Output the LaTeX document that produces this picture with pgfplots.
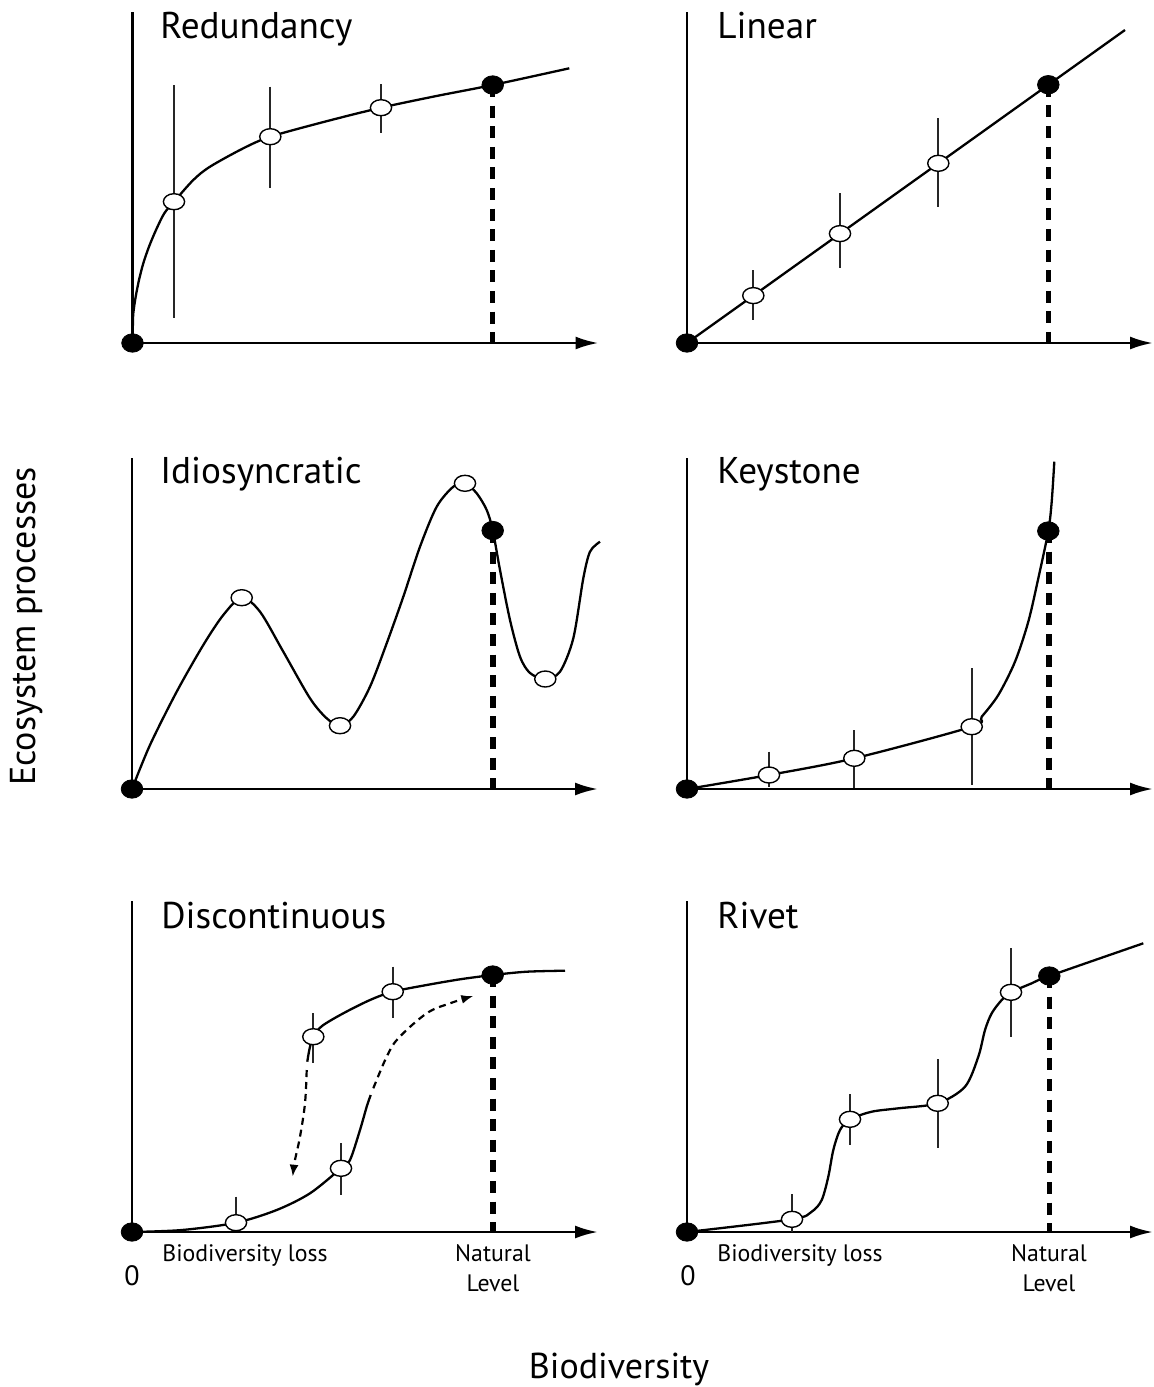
\documentclass[border=0pt]{standalone}
\usepackage{pgfplots}
\pgfplotsset{compat=1.18}
\usetikzlibrary{arrows.meta}
\usepackage{fontspec}
\setmainfont{PT Sans}

\pgfdeclareplotmark{ovo}{\pgfpathellipse{\pgfpointorigin}{\pgfqpoint{5.3pt}{0pt}}{\pgfqpoint{0pt}{4pt}}\pgfusepathqfillstroke}
\pgfdeclareplotmark{ovf}{\pgfpathellipse{\pgfpointorigin}{\pgfqpoint{5.4pt}{0pt}}{\pgfqpoint{0pt}{4.6pt}}\pgfusepathqfillstroke}

\pgfplotsset{
  panel/.style={x=0.5pt,y=0.5pt,xmin=0,xmax=466,ymin=0,ymax=331,
    axis x line=bottom, axis y line=left, ticks=none,
    axis line style={line width=1.35pt, black},
    x axis line style={-{Latex[length=11.5pt,width=6.5pt]}},
    y axis line style={-},
    clip=false, anchor=origin},
  curve/.style={black, line width=1.15pt, no markers, smooth, tension=0.5},
  ebar/.style={black!85, line width=0.85pt, no markers},
  nat/.style={black, line width=2.6pt, dash pattern=on 6pt off 4.3pt, no markers},
  openm/.style={only marks, mark=ovo, mark options={fill=white, draw=black, line width=0.7pt}},
  fullm/.style={only marks, mark=ovf, mark options={fill=black, draw=black, line width=0.4pt}},
  dotarrow/.style={black, line width=1.1pt, dash pattern=on 3.5pt off 2.5pt, no markers, smooth, tension=0.6,
    -{Latex[length=6pt,width=4.5pt]}},
}
\newcommand\ttl{\fontsize{18.6}{22}\selectfont}
\newcommand\axl{\fontsize{18}{22}\selectfont}
\newcommand\sml{\fontsize{11.9}{14}\selectfont}

\begin{document}
\begin{tikzpicture}
\useasboundingbox (0,0) rectangle (577pt,-693.5pt);

% ---------- Redundancy ----------
\begin{axis}[panel, at={(66.25pt,-171.5pt)}]
\addplot[ebar] coordinates {(41.5,258) (41.5,25)};
\addplot[ebar] coordinates {(137.8,256.3) (137.8,155)};
\addplot[ebar] coordinates {(248.5,259) (248.5,210)};
\addplot[curve] coordinates {(0,0) (0.3,15) (0.8,29.7) (3.2,46.3) (6.5,63) (10.8,79.7) (16.5,96.3) (23.5,113) (31.8,129.7) (41.5,141.3) (60.8,163) (77.5,176.3) (110.8,194.7) (137.8,206.3) (193,221.5) (248.5,235.3) (304,247) (360.2,258) (436.8,274.7)};
\addplot[nat] coordinates {(360.2,258) (360.2,0)};
\addplot[openm] coordinates {(41.5,141.3) (137.8,206.3) (248.5,235.3)};
\addplot[fullm] coordinates {(0,0) (360.2,258)};
\end{axis}

% ---------- Linear ----------
\begin{axis}[panel, at={(343.5pt,-171.5pt)}]
\addplot[ebar] coordinates {(66.3,73) (66.3,23)};
\addplot[ebar] coordinates {(153,149.7) (153,74.7)};
\addplot[ebar] coordinates {(251.3,224.7) (251.3,136.3)};
\addplot[black, line width=1.15pt, no markers] coordinates {(0,0) (438,313)};
\addplot[nat] coordinates {(361.5,258.3) (361.5,0)};
\addplot[openm] coordinates {(66.3,47.4) (153,109.4) (251.3,179.7)};
\addplot[fullm] coordinates {(0,0) (361.3,258.3)};
\end{axis}

% ---------- Idiosyncratic ----------
\begin{axis}[panel, at={(66pt,-394.5pt)}]
\addplot[curve] coordinates {(0,0) (18,44) (44.7,97.3) (71.3,144) (91.3,174) (109.7,191.3) (128,177.3) (151.3,137.3) (178,90.7) (194.7,70.7) (208,63.3) (221.3,72.3) (238,102.3) (254.7,145.7) (271.3,192.3) (288,242.3) (304.7,282.3) (321.3,302.3) (333,305.7) (344.7,295.7) (354.7,279) (360.7,259) (368,219) (378,169) (388,132.3) (398,116) (413.3,110) (428,117.3) (441.3,150.7) (451.3,210.7) (458,237.3) (468,247.3)};
\addplot[nat] coordinates {(361,258) (361,0)};
\addplot[openm] coordinates {(109.7,191.3) (208,63.3) (333,305.7) (413.3,110)};
\addplot[fullm] coordinates {(0,0) (360.7,258.5)};
\end{axis}

% ---------- Keystone ----------
\begin{axis}[panel, at={(343.5pt,-394.5pt)}]
\addplot[ebar] coordinates {(82,37.3) (82,2)};
\addplot[ebar] coordinates {(167.3,59) (167.3,0.7)};
\addplot[ebar] coordinates {(284.7,120.7) (284.7,4)};
\addplot[curve] coordinates {(0,0) (82,14) (167.3,30.7) (284.7,62.3) (294.7,72.3) (311.3,94) (328,127.3) (341.3,167.3) (351.3,210.7) (361.3,258) (364.7,287.3) (367.3,327.3)};
\addplot[nat] coordinates {(362,258) (362,0)};
\addplot[openm] coordinates {(82,14) (167.3,30.7) (284.7,62.3)};
\addplot[fullm] coordinates {(0,0) (361.3,258)};
\end{axis}

% ---------- Discontinuous ----------
\begin{axis}[panel, at={(66pt,-616pt)}]
\addplot[ebar] coordinates {(104,35.3) (104,2)};
\addplot[ebar] coordinates {(209,88.7) (209,37)};
\addplot[ebar] coordinates {(181.3,218.7) (181.3,168.7)};
\addplot[ebar] coordinates {(260.7,265.3) (260.7,213.7)};
\addplot[curve] coordinates {(0,0) (50,2) (104,9.3) (144.7,22) (178,38.7) (209,63.7) (218,72) (228,102) (234.7,125.3) (238.7,137)};
\addplot[curve] coordinates {(175.3,170.3) (177.5,183) (181.3,195.3) (190,206) (211.3,218.7) (238,232) (260.7,240.3) (294.7,247) (328,252.7) (360.7,257) (394.7,260.3) (433,261.3)};
\addplot[dotarrow] coordinates {(174.7,162) (173,128.7) (168,95.3) (163,72) (160.7,55.3)};
\addplot[dotarrow] coordinates {(241.3,143.7) (254.7,175.3) (266.3,193.7) (294.7,218.7) (318,228.7) (341.3,236)};
\addplot[nat] coordinates {(361,257) (361,0)};
\addplot[openm] coordinates {(104,9.3) (209,63.7) (181.3,195.3) (260.7,240.3)};
\addplot[fullm] coordinates {(0,0) (360.7,257)};
\end{axis}

% ---------- Rivet ----------
\begin{axis}[panel, at={(343.5pt,-616pt)}]
\addplot[ebar] coordinates {(105,38) (105,0.3)};
\addplot[ebar] coordinates {(163,138) (163,87)};
\addplot[ebar] coordinates {(250.7,172.7) (250.7,83.7)};
\addplot[ebar] coordinates {(324,283.7) (324,195.3)};
\addplot[curve] coordinates {(0,0) (105,12.7) (124.7,20.3) (134.7,32) (141.3,55.3) (146.3,82) (153,102) (163,112.7) (184.7,120.3) (211.3,123.7) (250.7,128.7) (278,145.3) (291.3,175.3) (298,202) (304.7,218.7) (314.7,232) (324,239.7) (344.7,248.7) (362.3,256) (456.3,288.7)};
\addplot[nat] coordinates {(362.3,256) (362.3,0)};
\addplot[openm] coordinates {(105,12.7) (163,112.7) (250.7,128.7) (324,239.7)};
\addplot[fullm] coordinates {(0,0) (362.3,256)};
\end{axis}

% ---------- texts ----------
\begin{scope}[x=0.5pt,y=-0.5pt]
\node[anchor=base west, inner sep=0] at (160,38) {\ttl Redundancy};
\node[anchor=base west, inner sep=0] at (717,38) {\ttl Linear};
\node[anchor=base west, inner sep=0] at (160,483) {\ttl Idiosyncratic};
\node[anchor=base west, inner sep=0] at (717,483) {\ttl Keystone};
\node[anchor=base west, inner sep=0] at (161,928) {\ttl Discontinuous};
\node[anchor=base west, inner sep=0] at (717,928) {\ttl Rivet};

\node[anchor=base west, inner sep=0] at (162,1261) {\sml Biodiversity loss};
\node[anchor=base west, inner sep=0] at (717,1261) {\sml Biodiversity loss};
\node[anchor=base, inner sep=0] at (132,1285) {\fontsize{14}{16}\selectfont 0};
\node[anchor=base, inner sep=0] at (688,1285) {\fontsize{14}{16}\selectfont 0};
\node[anchor=base, inner sep=0] at (493,1261) {\sml Natural};
\node[anchor=base, inner sep=0] at (493,1291) {\sml Level};
\node[anchor=base, inner sep=0] at (1049,1261) {\sml Natural};
\node[anchor=base, inner sep=0] at (1049,1291) {\sml Level};

\node[anchor=base, inner sep=0, rotate=90] at (35,626.5) {\axl Ecosystem processes};
\node[anchor=base, inner sep=0] at (619,1378) {\axl Biodiversity};
\end{scope}
\end{tikzpicture}
\end{document}
